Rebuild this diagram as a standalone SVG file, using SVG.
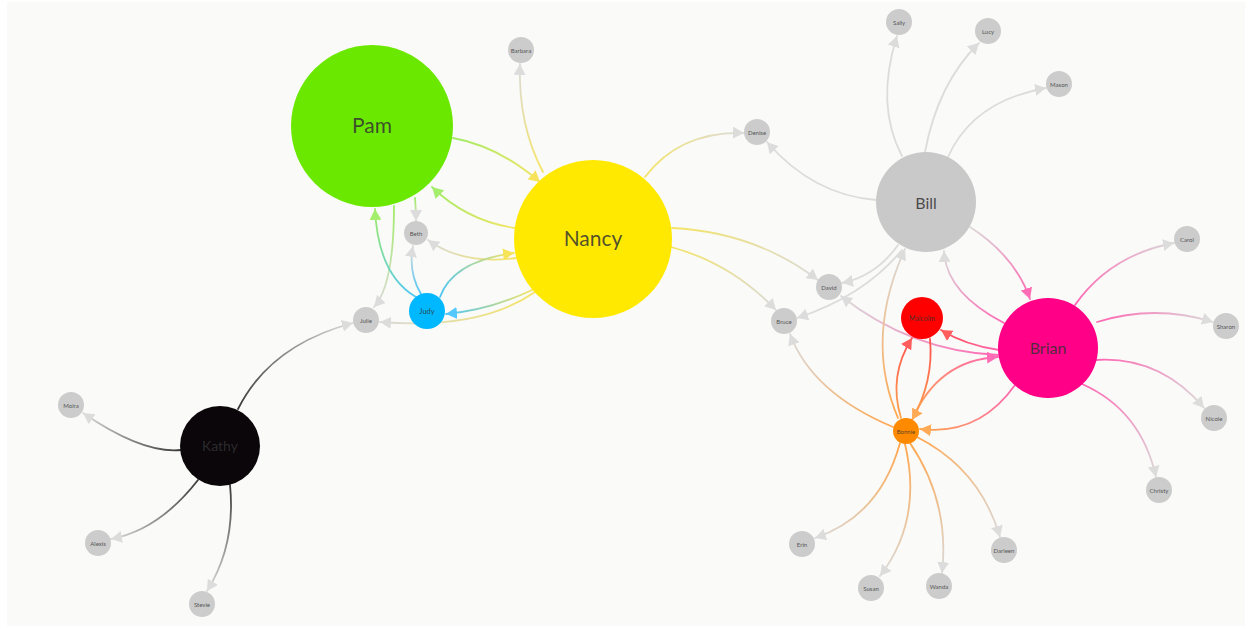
<svg xmlns="http://www.w3.org/2000/svg" width="1252" height="629" viewBox="0 0 1252 629">
  <style>
    .edge { fill: none; stroke-width: 1.8; stroke-linecap: round; }
    .small circle { fill: #cccccc; }
    .small text { font-family: Lato, "Open Sans", sans-serif; font-size: 6px; fill: #555; text-anchor: middle; dominant-baseline: central; }
    .big text { font-family: Lato, "Open Sans", sans-serif; fill: #333; fill-opacity: 0.85; text-anchor: middle; dominant-baseline: central; }
  </style>
  <defs>
    <marker id="mk-gray" viewBox="0 0 12 12" refX="11" refY="6" markerWidth="12" markerHeight="12" markerUnits="userSpaceOnUse" orient="auto"><path d="M0,0 L11,6 L0,12 z" fill="#dcdcdc"/></marker>
    <marker id="mk-yellow" viewBox="0 0 12 12" refX="11" refY="6" markerWidth="12" markerHeight="12" markerUnits="userSpaceOnUse" orient="auto"><path d="M0,0 L11,6 L0,12 z" fill="#f7e35a"/></marker>
    <marker id="mk-green" viewBox="0 0 12 12" refX="11" refY="6" markerWidth="12" markerHeight="12" markerUnits="userSpaceOnUse" orient="auto"><path d="M0,0 L11,6 L0,12 z" fill="#a4ee6c"/></marker>
    <marker id="mk-blue" viewBox="0 0 12 12" refX="11" refY="6" markerWidth="12" markerHeight="12" markerUnits="userSpaceOnUse" orient="auto"><path d="M0,0 L11,6 L0,12 z" fill="#55c8ff"/></marker>
    <marker id="mk-pink" viewBox="0 0 12 12" refX="11" refY="6" markerWidth="12" markerHeight="12" markerUnits="userSpaceOnUse" orient="auto"><path d="M0,0 L11,6 L0,12 z" fill="#ff6cb6"/></marker>
    <marker id="mk-red" viewBox="0 0 12 12" refX="11" refY="6" markerWidth="12" markerHeight="12" markerUnits="userSpaceOnUse" orient="auto"><path d="M0,0 L11,6 L0,12 z" fill="#ff5c5c"/></marker>
    <marker id="mk-orange" viewBox="0 0 12 12" refX="11" refY="6" markerWidth="12" markerHeight="12" markerUnits="userSpaceOnUse" orient="auto"><path d="M0,0 L11,6 L0,12 z" fill="#ffaa55"/></marker>

    <!-- stroke gradients, each running from source to target -->
    <linearGradient id="g1" gradientUnits="userSpaceOnUse" x1="453" y1="138" x2="540" y2="182"><stop offset="0" stop-color="#a0ec66"/><stop offset="1" stop-color="#f5e464"/></linearGradient>
    <linearGradient id="g2" gradientUnits="userSpaceOnUse" x1="415" y1="198" x2="416" y2="221"><stop offset="0" stop-color="#a0ec66"/><stop offset="1" stop-color="#dadada"/></linearGradient>
    <linearGradient id="g3" gradientUnits="userSpaceOnUse" x1="394" y1="206" x2="374" y2="307"><stop offset="0" stop-color="#a0ec66"/><stop offset="1" stop-color="#dadada"/></linearGradient>
    <linearGradient id="g4" gradientUnits="userSpaceOnUse" x1="515" y1="228" x2="432" y2="187"><stop offset="0" stop-color="#f5e464"/><stop offset="1" stop-color="#a0ec66"/></linearGradient>
    <linearGradient id="g5" gradientUnits="userSpaceOnUse" x1="516" y1="258" x2="428" y2="240"><stop offset="0" stop-color="#f5e464"/><stop offset="1" stop-color="#dadada"/></linearGradient>
    <linearGradient id="g6" gradientUnits="userSpaceOnUse" x1="543" y1="172" x2="520" y2="64"><stop offset="0" stop-color="#f5e464"/><stop offset="1" stop-color="#dadada"/></linearGradient>
    <linearGradient id="g7" gradientUnits="userSpaceOnUse" x1="532" y1="290" x2="446" y2="314"><stop offset="0" stop-color="#f5e464"/><stop offset="1" stop-color="#4cc6f5"/></linearGradient>
    <linearGradient id="g8" gradientUnits="userSpaceOnUse" x1="535" y1="292" x2="380" y2="322"><stop offset="0" stop-color="#f5e464"/><stop offset="1" stop-color="#dadada"/></linearGradient>
    <linearGradient id="g9" gradientUnits="userSpaceOnUse" x1="645" y1="177" x2="744" y2="133"><stop offset="0" stop-color="#f5e464"/><stop offset="1" stop-color="#dadada"/></linearGradient>
    <linearGradient id="g10" gradientUnits="userSpaceOnUse" x1="672" y1="228" x2="818" y2="280"><stop offset="0" stop-color="#f5e464"/><stop offset="1" stop-color="#dadada"/></linearGradient>
    <linearGradient id="g11" gradientUnits="userSpaceOnUse" x1="671" y1="247" x2="776" y2="310"><stop offset="0" stop-color="#f5e464"/><stop offset="1" stop-color="#dadada"/></linearGradient>
    <linearGradient id="g12" gradientUnits="userSpaceOnUse" x1="416" y1="297" x2="375" y2="209"><stop offset="0" stop-color="#4cc6f5"/><stop offset="1" stop-color="#a0ec66"/></linearGradient>
    <linearGradient id="g13" gradientUnits="userSpaceOnUse" x1="421" y1="294" x2="413" y2="246"><stop offset="0" stop-color="#4cc6f5"/><stop offset="1" stop-color="#dadada"/></linearGradient>
    <linearGradient id="g14" gradientUnits="userSpaceOnUse" x1="440" y1="297" x2="514" y2="253"><stop offset="0" stop-color="#4cc6f5"/><stop offset="1" stop-color="#f5e464"/></linearGradient>
    <linearGradient id="g15" gradientUnits="userSpaceOnUse" x1="238" y1="409" x2="353" y2="323"><stop offset="0" stop-color="#3a3a3a"/><stop offset="1" stop-color="#dadada"/></linearGradient>
    <linearGradient id="g16" gradientUnits="userSpaceOnUse" x1="181" y1="450" x2="83" y2="413"><stop offset="0" stop-color="#3a3a3a"/><stop offset="1" stop-color="#dadada"/></linearGradient>
    <linearGradient id="g17" gradientUnits="userSpaceOnUse" x1="198" y1="480" x2="111" y2="539"><stop offset="0" stop-color="#3a3a3a"/><stop offset="1" stop-color="#dadada"/></linearGradient>
    <linearGradient id="g18" gradientUnits="userSpaceOnUse" x1="230" y1="485" x2="207" y2="591"><stop offset="0" stop-color="#3a3a3a"/><stop offset="1" stop-color="#dadada"/></linearGradient>
    <linearGradient id="g25" gradientUnits="userSpaceOnUse" x1="970" y1="227" x2="1030" y2="299"><stop offset="0" stop-color="#dadada"/><stop offset="1" stop-color="#ff66b3"/></linearGradient>
    <linearGradient id="g26" gradientUnits="userSpaceOnUse" x1="1004" y1="323" x2="944" y2="251"><stop offset="0" stop-color="#ff66b3"/><stop offset="1" stop-color="#dadada"/></linearGradient>
    <linearGradient id="g27" gradientUnits="userSpaceOnUse" x1="998" y1="355" x2="841" y2="296"><stop offset="0" stop-color="#ff66b3"/><stop offset="1" stop-color="#dadada"/></linearGradient>
    <linearGradient id="g28" gradientUnits="userSpaceOnUse" x1="999" y1="350" x2="941" y2="330"><stop offset="0" stop-color="#ff66b3"/><stop offset="1" stop-color="#ff5050"/></linearGradient>
    <linearGradient id="g29" gradientUnits="userSpaceOnUse" x1="1015" y1="385" x2="920" y2="429"><stop offset="0" stop-color="#ff66b3"/><stop offset="1" stop-color="#ffa64d"/></linearGradient>
    <linearGradient id="g30" gradientUnits="userSpaceOnUse" x1="1075" y1="305" x2="1174" y2="243"><stop offset="0" stop-color="#ff66b3"/><stop offset="1" stop-color="#dadada"/></linearGradient>
    <linearGradient id="g31" gradientUnits="userSpaceOnUse" x1="1097" y1="322" x2="1213" y2="322"><stop offset="0" stop-color="#ff66b3"/><stop offset="1" stop-color="#dadada"/></linearGradient>
    <linearGradient id="g32" gradientUnits="userSpaceOnUse" x1="1096" y1="360" x2="1204" y2="408"><stop offset="0" stop-color="#ff66b3"/><stop offset="1" stop-color="#dadada"/></linearGradient>
    <linearGradient id="g33" gradientUnits="userSpaceOnUse" x1="1082" y1="384" x2="1156" y2="477"><stop offset="0" stop-color="#ff66b3"/><stop offset="1" stop-color="#dadada"/></linearGradient>
    <linearGradient id="g34" gradientUnits="userSpaceOnUse" x1="898" y1="418" x2="905" y2="249"><stop offset="0" stop-color="#ffa64d"/><stop offset="1" stop-color="#dadada"/></linearGradient>
    <linearGradient id="g35" gradientUnits="userSpaceOnUse" x1="901" y1="418" x2="912" y2="338"><stop offset="0" stop-color="#ffa64d"/><stop offset="1" stop-color="#ff5050"/></linearGradient>
    <linearGradient id="g36" gradientUnits="userSpaceOnUse" x1="912" y1="420" x2="998" y2="357"><stop offset="0" stop-color="#ffa64d"/><stop offset="1" stop-color="#ff66b3"/></linearGradient>
    <linearGradient id="g37" gradientUnits="userSpaceOnUse" x1="893" y1="427" x2="790" y2="334"><stop offset="0" stop-color="#ffa64d"/><stop offset="1" stop-color="#dadada"/></linearGradient>
    <linearGradient id="g38" gradientUnits="userSpaceOnUse" x1="900" y1="443" x2="815" y2="538"><stop offset="0" stop-color="#ffa64d"/><stop offset="1" stop-color="#dadada"/></linearGradient>
    <linearGradient id="g39" gradientUnits="userSpaceOnUse" x1="905" y1="444" x2="880" y2="576"><stop offset="0" stop-color="#ffa64d"/><stop offset="1" stop-color="#dadada"/></linearGradient>
    <linearGradient id="g40" gradientUnits="userSpaceOnUse" x1="910" y1="443" x2="942" y2="573"><stop offset="0" stop-color="#ffa64d"/><stop offset="1" stop-color="#dadada"/></linearGradient>
    <linearGradient id="g41" gradientUnits="userSpaceOnUse" x1="917" y1="437" x2="1000" y2="537"><stop offset="0" stop-color="#ffa64d"/><stop offset="1" stop-color="#dadada"/></linearGradient>
    <linearGradient id="g42" gradientUnits="userSpaceOnUse" x1="930" y1="339" x2="912" y2="420"><stop offset="0" stop-color="#ff5050"/><stop offset="1" stop-color="#ffa64d"/></linearGradient>
  </defs>

  <!-- canvas -->
  <rect x="0" y="0" width="1252" height="629" fill="#ffffff"/>
  <rect x="7" y="2" width="1238" height="624" fill="#fafaf8"/>

  <g id="connectors">
    <path class="edge" d="M453,138 Q498,146 540,182" stroke="url(#g1)" marker-end="url(#mk-yellow)"/>
    <path class="edge" d="M415,198 Q416,210 416,221" stroke="url(#g2)" marker-end="url(#mk-gray)"/>
    <path class="edge" d="M394,206 Q394,285 374,307" stroke="url(#g3)" marker-end="url(#mk-gray)"/>
    <path class="edge" d="M515,228 Q467,221 432,187" stroke="url(#g4)" marker-end="url(#mk-green)"/>
    <path class="edge" d="M516,258 Q462,265 428,240" stroke="url(#g5)" marker-end="url(#mk-gray)"/>
    <path class="edge" d="M543,172 Q518,125 520,64" stroke="url(#g6)" marker-end="url(#mk-gray)"/>
    <path class="edge" d="M532,290 Q490,310 446,314" stroke="url(#g7)" marker-end="url(#mk-blue)"/>
    <path class="edge" d="M535,292 Q480,330 380,322" stroke="url(#g8)" marker-end="url(#mk-gray)"/>
    <path class="edge" d="M645,177 Q680,131 744,133" stroke="url(#g9)" marker-end="url(#mk-gray)"/>
    <path class="edge" d="M672,228 Q755,232 818,280" stroke="url(#g10)" marker-end="url(#mk-gray)"/>
    <path class="edge" d="M671,247 Q731,263 776,310" stroke="url(#g11)" marker-end="url(#mk-gray)"/>
    <path class="edge" d="M416,297 Q378,275 375,209" stroke="url(#g12)" marker-end="url(#mk-green)"/>
    <path class="edge" d="M421,294 Q408,272 413,246" stroke="url(#g13)" marker-end="url(#mk-gray)"/>
    <path class="edge" d="M440,297 Q453,261 514,253" stroke="url(#g14)" marker-end="url(#mk-yellow)"/>
    <path class="edge" d="M238,409 Q270,345 353,323" stroke="url(#g15)" marker-end="url(#mk-gray)"/>
    <path class="edge" d="M181,450 Q143,454 83,413" stroke="url(#g16)" marker-end="url(#mk-gray)"/>
    <path class="edge" d="M198,480 Q159,530 111,539" stroke="url(#g17)" marker-end="url(#mk-gray)"/>
    <path class="edge" d="M230,485 Q236,545 207,591" stroke="url(#g18)" marker-end="url(#mk-gray)"/>
    <path class="edge" d="M902,156 Q875,105 897,36" stroke="#dcdcdc" marker-end="url(#mk-gray)"/>
    <path class="edge" d="M925,152 Q938,83 979,43" stroke="#dcdcdc" marker-end="url(#mk-gray)"/>
    <path class="edge" d="M948,157 Q973,101 1046,88" stroke="#dcdcdc" marker-end="url(#mk-gray)"/>
    <path class="edge" d="M876,200 Q813,195 767,142" stroke="#dcdcdc" marker-end="url(#mk-gray)"/>
    <path class="edge" d="M898,245 Q876,276 842,283" stroke="#dcdcdc" marker-end="url(#mk-gray)"/>
    <path class="edge" d="M902,250 Q864,296 797,318" stroke="#dcdcdc" marker-end="url(#mk-gray)"/>
    <path class="edge" d="M970,227 Q1015,256 1030,299" stroke="url(#g25)" marker-end="url(#mk-pink)"/>
    <path class="edge" d="M1004,323 Q946,293 944,251" stroke="url(#g26)" marker-end="url(#mk-gray)"/>
    <path class="edge" d="M998,355 Q911,351 841,296" stroke="url(#g27)" marker-end="url(#mk-gray)"/>
    <path class="edge" d="M999,350 Q965,345 941,330" stroke="url(#g28)" marker-end="url(#mk-red)"/>
    <path class="edge" d="M1015,385 Q979,436 920,429" stroke="url(#g29)" marker-end="url(#mk-orange)"/>
    <path class="edge" d="M1075,305 Q1110,255 1174,243" stroke="url(#g30)" marker-end="url(#mk-gray)"/>
    <path class="edge" d="M1097,322 Q1155,304 1213,322" stroke="url(#g31)" marker-end="url(#mk-gray)"/>
    <path class="edge" d="M1096,360 Q1160,356 1204,408" stroke="url(#g32)" marker-end="url(#mk-gray)"/>
    <path class="edge" d="M1082,384 Q1141,410 1156,477" stroke="url(#g33)" marker-end="url(#mk-gray)"/>
    <path class="edge" d="M898,418 Q864,339 905,249" stroke="url(#g34)" marker-end="url(#mk-gray)"/>
    <path class="edge" d="M901,418 Q888,376 912,338" stroke="url(#g35)" marker-end="url(#mk-red)"/>
    <path class="edge" d="M912,420 Q938,360 998,357" stroke="url(#g36)" marker-end="url(#mk-pink)"/>
    <path class="edge" d="M893,427 Q812,393 790,334" stroke="url(#g37)" marker-end="url(#mk-gray)"/>
    <path class="edge" d="M900,443 Q880,516 815,538" stroke="url(#g38)" marker-end="url(#mk-gray)"/>
    <path class="edge" d="M905,444 Q923,520 880,576" stroke="url(#g39)" marker-end="url(#mk-gray)"/>
    <path class="edge" d="M910,443 Q950,502 942,573" stroke="url(#g40)" marker-end="url(#mk-gray)"/>
    <path class="edge" d="M917,437 Q980,469 1000,537" stroke="url(#g41)" marker-end="url(#mk-gray)"/>
    <path class="edge" d="M930,339 Q934,381 912,420" stroke="url(#g42)" marker-end="url(#mk-orange)"/>
  </g>

  <!-- hub nodes -->
  <g id="pam" class="big"><circle cx="372" cy="126" r="81" fill="#6be800"/><text x="372" y="124.5" font-size="21">Pam</text></g>
  <g id="nancy" class="big"><circle cx="593" cy="239" r="79" fill="#ffe900"/><text x="593" y="237.5" font-size="21">Nancy</text></g>
  <g id="bill" class="big"><circle cx="926" cy="202" r="50" fill="#c9c9c9"/><text x="926" y="202" font-size="16">Bill</text></g>
  <g id="brian" class="big"><circle cx="1048" cy="348" r="50" fill="#ff0087"/><text x="1048" y="347" font-size="16">Brian</text></g>
  <g id="kathy" class="big"><circle cx="220" cy="446" r="40" fill="#0a060a"/><text x="220" y="445.5" font-size="14">Kathy</text></g>
  <g id="judy" class="big"><circle cx="427" cy="311" r="18" fill="#00b8ff"/><text x="427" y="311" font-size="7.5">Judy</text></g>
  <g id="malcolm" class="big"><circle cx="922" cy="318" r="21" fill="#ff0000"/><text x="922" y="318" font-size="7">Malcolm</text></g>
  <g id="bonnie" class="big"><circle cx="906" cy="431" r="13" fill="#ff8a00"/><text x="906" y="431" font-size="6">Bonnie</text></g>

  <!-- leaf nodes -->
  <g id="barbara" class="small"><circle cx="521" cy="50" r="13"/><text x="521" y="50">Barbara</text></g>
  <g id="beth" class="small"><circle cx="416" cy="233" r="12"/><text x="416" y="233">Beth</text></g>
  <g id="julie" class="small"><circle cx="366" cy="320" r="13"/><text x="366" y="320">Julie</text></g>
  <g id="denise" class="small"><circle cx="757" cy="132" r="13"/><text x="757" y="132">Denise</text></g>
  <g id="david" class="small"><circle cx="829" cy="287" r="13"/><text x="829" y="287">David</text></g>
  <g id="bruce" class="small"><circle cx="784" cy="321" r="13"/><text x="784" y="321">Bruce</text></g>
  <g id="sally" class="small"><circle cx="899" cy="22" r="13"/><text x="899" y="22">Sally</text></g>
  <g id="lucy" class="small"><circle cx="988" cy="31" r="13"/><text x="988" y="31">Lucy</text></g>
  <g id="mason" class="small"><circle cx="1059" cy="84" r="13"/><text x="1059" y="84">Mason</text></g>
  <g id="carol" class="small"><circle cx="1187" cy="239" r="13"/><text x="1187" y="239">Carol</text></g>
  <g id="sharon" class="small"><circle cx="1226" cy="326" r="13"/><text x="1226" y="326">Sharon</text></g>
  <g id="nicole" class="small"><circle cx="1214" cy="418" r="13"/><text x="1214" y="418">Nicole</text></g>
  <g id="christy" class="small"><circle cx="1159" cy="490" r="13"/><text x="1159" y="490">Christy</text></g>
  <g id="erin" class="small"><circle cx="802" cy="544" r="13"/><text x="802" y="544">Erin</text></g>
  <g id="susan" class="small"><circle cx="871" cy="588" r="13"/><text x="871" y="588">Susan</text></g>
  <g id="wanda" class="small"><circle cx="939" cy="586" r="13"/><text x="939" y="586">Wanda</text></g>
  <g id="darleen" class="small"><circle cx="1004" cy="550" r="13"/><text x="1004" y="550">Darleen</text></g>
  <g id="moira" class="small"><circle cx="71" cy="405" r="13"/><text x="71" y="405">Moira</text></g>
  <g id="alexis" class="small"><circle cx="98" cy="543" r="13"/><text x="98" y="543">Alexis</text></g>
  <g id="stevie" class="small"><circle cx="202" cy="604" r="13"/><text x="202" y="604">Stevie</text></g>
</svg>
